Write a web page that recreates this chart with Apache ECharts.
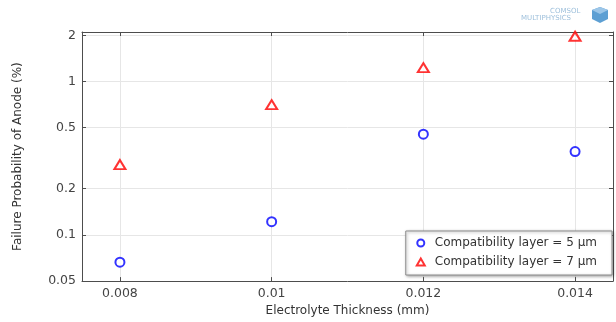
<!DOCTYPE html>
<html>
<head>
<meta charset="utf-8">
<script src="https://cdn.jsdelivr.net/npm/echarts@6/dist/echarts.min.js"></script>
<style>
html,body{margin:0;padding:0;background:#fff;}
#c{width:616px;height:322px;}
</style>
</head>
<body>
<div id="c"></div>
<script>
const thickness = [0.008, 0.010, 0.012, 0.014];
const layer5 = [0.0664, 0.122, 0.453, 0.349];
const layer7 = [0.287, 0.706, 1.23, 1.97];
const seriesNames = ['Compatibility layer = 5 µm', 'Compatibility layer = 7 µm'];
const xTicks = [0.008, 0.01, 0.012, 0.014];
const yTicks = [0.05, 0.1, 0.2, 0.5, 1, 2];

const font = 'DejaVu Sans';
const chart = echarts.init(document.getElementById('c'), null, {renderer: 'canvas'});

const axisLineStyle = {color: '#4d4d4d', width: 1};
const gridLine = {show: true, lineStyle: {color: '#e6e6e6', width: 1}};

function fmt(v){ return String(+Number(v).toPrecision(3)); }

chart.setOption({
  animation: false,
  backgroundColor: '#fff',
  grid: {left: 82, right: 3, top: 32, bottom: 38, containLabel: false},
  xAxis: [{
    type: 'value', min: 0.0075, max: 0.0145, position: 'bottom',
    name: 'Electrolyte Thickness (mm)', nameLocation: 'middle', nameGap: 18,
    nameTextStyle: {fontFamily: font, fontSize: 12, color: '#333'},
    axisLine: {show: true, lineStyle: axisLineStyle},
    axisTick: {show: true, inside: true, length: 4, customValues: xTicks, lineStyle: axisLineStyle},
    axisLabel: {customValues: xTicks, formatter: fmt, fontFamily: font, fontSize: 12.5, color: '#444', margin: 6},
    splitLine: gridLine
  },{
    type: 'value', min: 0.0075, max: 0.0145, position: 'top',
    axisLine: {show: true, lineStyle: axisLineStyle},
    axisTick: {show: true, inside: true, length: 4, customValues: xTicks, lineStyle: axisLineStyle},
    axisLabel: {show: false, customValues: xTicks},
    splitLine: {show: false}
  }],
  yAxis: [{
    type: 'log', min: 0.05, max: 2.1, position: 'left',
    name: 'Failure Probability of Anode (%)', nameLocation: 'middle', nameGap: 58,
    nameTextStyle: {fontFamily: font, fontSize: 12, color: '#333'},
    axisLine: {show: true, lineStyle: axisLineStyle},
    axisTick: {show: true, inside: true, length: 4, customValues: yTicks, lineStyle: axisLineStyle},
    axisLabel: {customValues: yTicks, formatter: fmt, fontFamily: font, fontSize: 12.5, color: '#444', margin: 6},
    minorTick: {show: false},
    splitLine: gridLine
  },{
    type: 'log', min: 0.05, max: 2.1, position: 'right',
    axisLine: {show: true, lineStyle: axisLineStyle},
    axisTick: {show: true, inside: true, length: 4, customValues: yTicks, lineStyle: axisLineStyle},
    axisLabel: {show: false, customValues: yTicks},
    splitLine: {show: false}
  }],
  legend: {
    orient: 'vertical', right: 4, bottom: 47,
    backgroundColor: '#fff', borderColor: '#8c8c8c', borderWidth: 1,
    shadowColor: 'rgba(0,0,0,0.35)', shadowBlur: 3, shadowOffsetX: 1, shadowOffsetY: 1,
    padding: [6, 15, 7, 10], itemGap: 7, itemWidth: 8, itemHeight: 7,
    textStyle: {fontFamily: font, fontSize: 12, color: '#333', padding: [0, 0, 0, 5]},
    data: seriesNames
  },
  series: [{
    name: seriesNames[0], type: 'scatter', xAxisIndex: 0, yAxisIndex: 0,
    symbol: 'emptyCircle', symbolSize: 9,
    itemStyle: {color: '#0000ff', borderColor: '#0000ff', borderWidth: 2.2},
    data: thickness.map((x, i) => [x, layer5[i]])
  },{
    name: seriesNames[1], type: 'scatter', xAxisIndex: 0, yAxisIndex: 0,
    symbol: 'emptyTriangle', symbolSize: [11, 9],
    itemStyle: {color: '#ff0000', borderColor: '#ff0000', borderWidth: 1.7},
    data: thickness.map((x, i) => [x, layer7[i]])
  }],
  graphic: [
    {type: 'text', left: 550, top: 8, style: {text: 'COMSOL', fontFamily: font, fontSize: 7, fill: '#9dbfdb', letterSpacing: 0.3}},
    {type: 'text', left: 521, top: 15, style: {text: 'MULTIPHYSICS', fontFamily: font, fontSize: 7, fill: '#9dbfdb', letterSpacing: 0.7}},
    {type: 'polygon', shape: {points: [[600,7],[608,10],[608,19],[600,23],[592,19],[592,10]]}, style: {fill: '#5d9fd3'}},
    {type: 'polygon', shape: {points: [[600,7],[608,10],[600,14],[592,10]]}, style: {fill: '#9cc6e8'}}
  ]
});
</script>
</body>
</html>
